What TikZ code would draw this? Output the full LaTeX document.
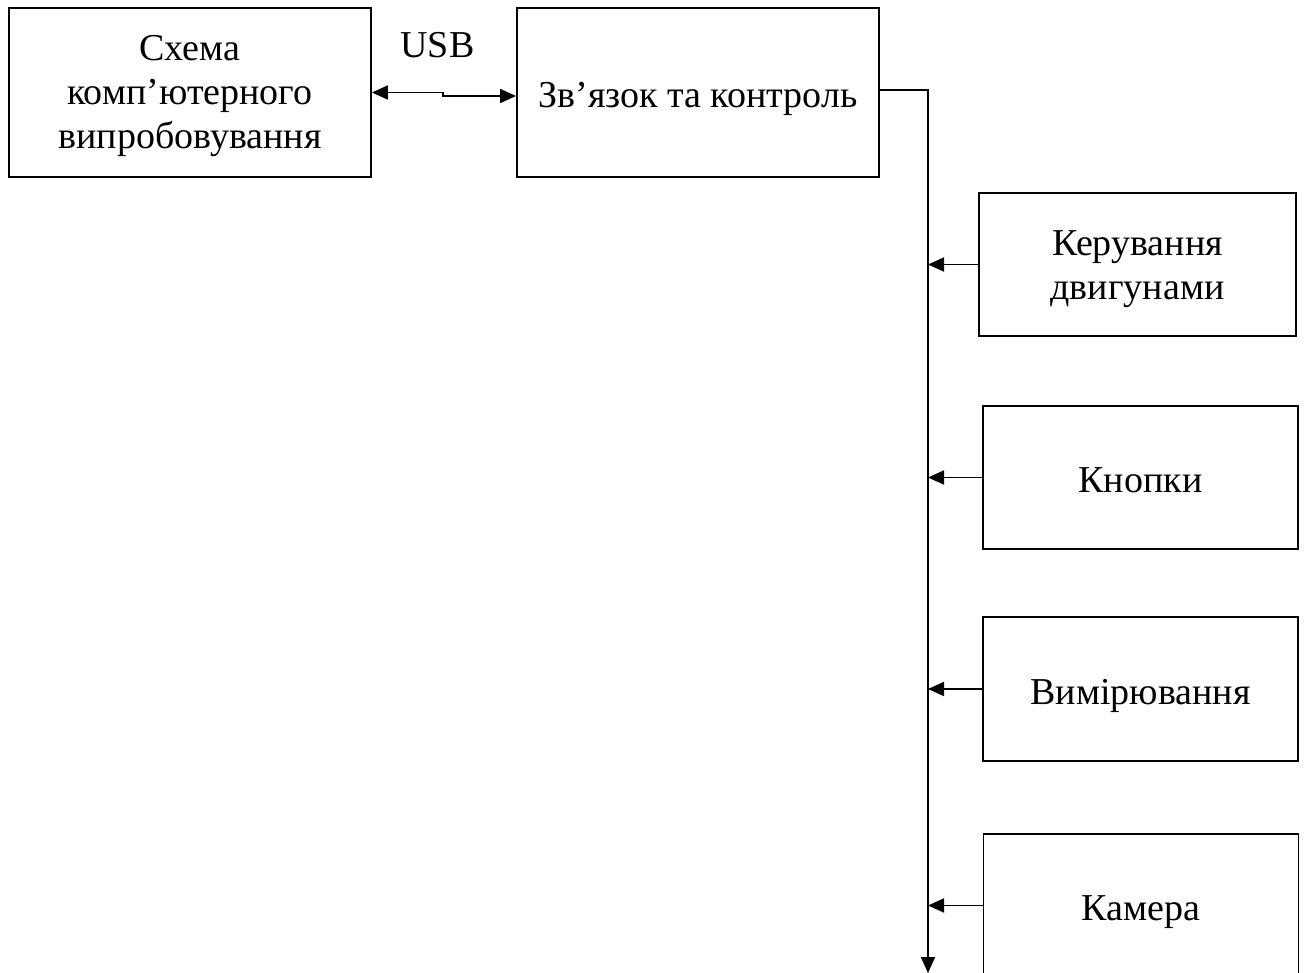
\documentclass[tikz,border=0pt]{standalone}
\usepackage{fontspec}
\setmainfont{Liberation Serif}
\usetikzlibrary{arrows.meta}
\begin{document}
\begin{tikzpicture}[x=1pt,y=-1pt,
  box/.style={draw,line width=1.8pt,align=center,inner sep=0pt,font=\fontsize{38}{44}\selectfont},
  one/.style={text height=30pt,text depth=0pt},
  conn/.style={line width=1.8pt},
  tip/.style={-{Triangle[length=16pt,width=14pt]}}]
\useasboundingbox (0,0) rectangle (1304,973);
\node[box,minimum width=362pt,minimum height=169pt] (A) at (190,92.5) {};
\node[font=\fontsize{38}{44}\selectfont,align=center,inner sep=0pt] (At) at ([yshift=-4pt]A.center) {Схема\\комп’ютерного\\випробовування};
\node[box,one,minimum width=362pt,minimum height=169pt] (B) at (698,92.5) {Зв’язок та контроль};
\node[box,minimum width=317pt,minimum height=143pt] (C) at (1137.5,264.5) {};
\node[font=\fontsize{38}{44}\selectfont,align=center,inner sep=0pt] (Ct) at ([yshift=-5pt]C.center) {Керування\\двигунами};
\node[box,one,minimum width=315pt,minimum height=143pt] (D) at (1140.5,477.5) {Кнопки};
\node[box,one,minimum width=315pt,minimum height=144pt] (E) at (1140.5,689) {Вимірювання};
\node[box,one,minimum width=315pt,minimum height=143pt] (F) at (1141,905.5) {Камера};
\node[font=\fontsize{38}{44}\selectfont,inner sep=0pt,anchor=base] (usb) at (437.5,58) {USB};
\coordinate (j1) at (443,92.5);
\coordinate (j2) at (443,96);
\draw[conn,{Triangle[length=16pt,width=14pt]}-{Triangle[length=16pt,width=14pt]}] (A.east) -- (j1) -- (j2) -- (j2 -| B.west);
\coordinate (b0) at (928,90);
\coordinate (bend) at (928,973);
\draw[conn,tip] (b0 -| B.east) -- (b0) -- (bend);
\foreach \n in {C,D,E,F}{
  \draw[conn,tip] (\n.west) -- (\n.west -| b0);
}
\end{tikzpicture}
\end{document}
